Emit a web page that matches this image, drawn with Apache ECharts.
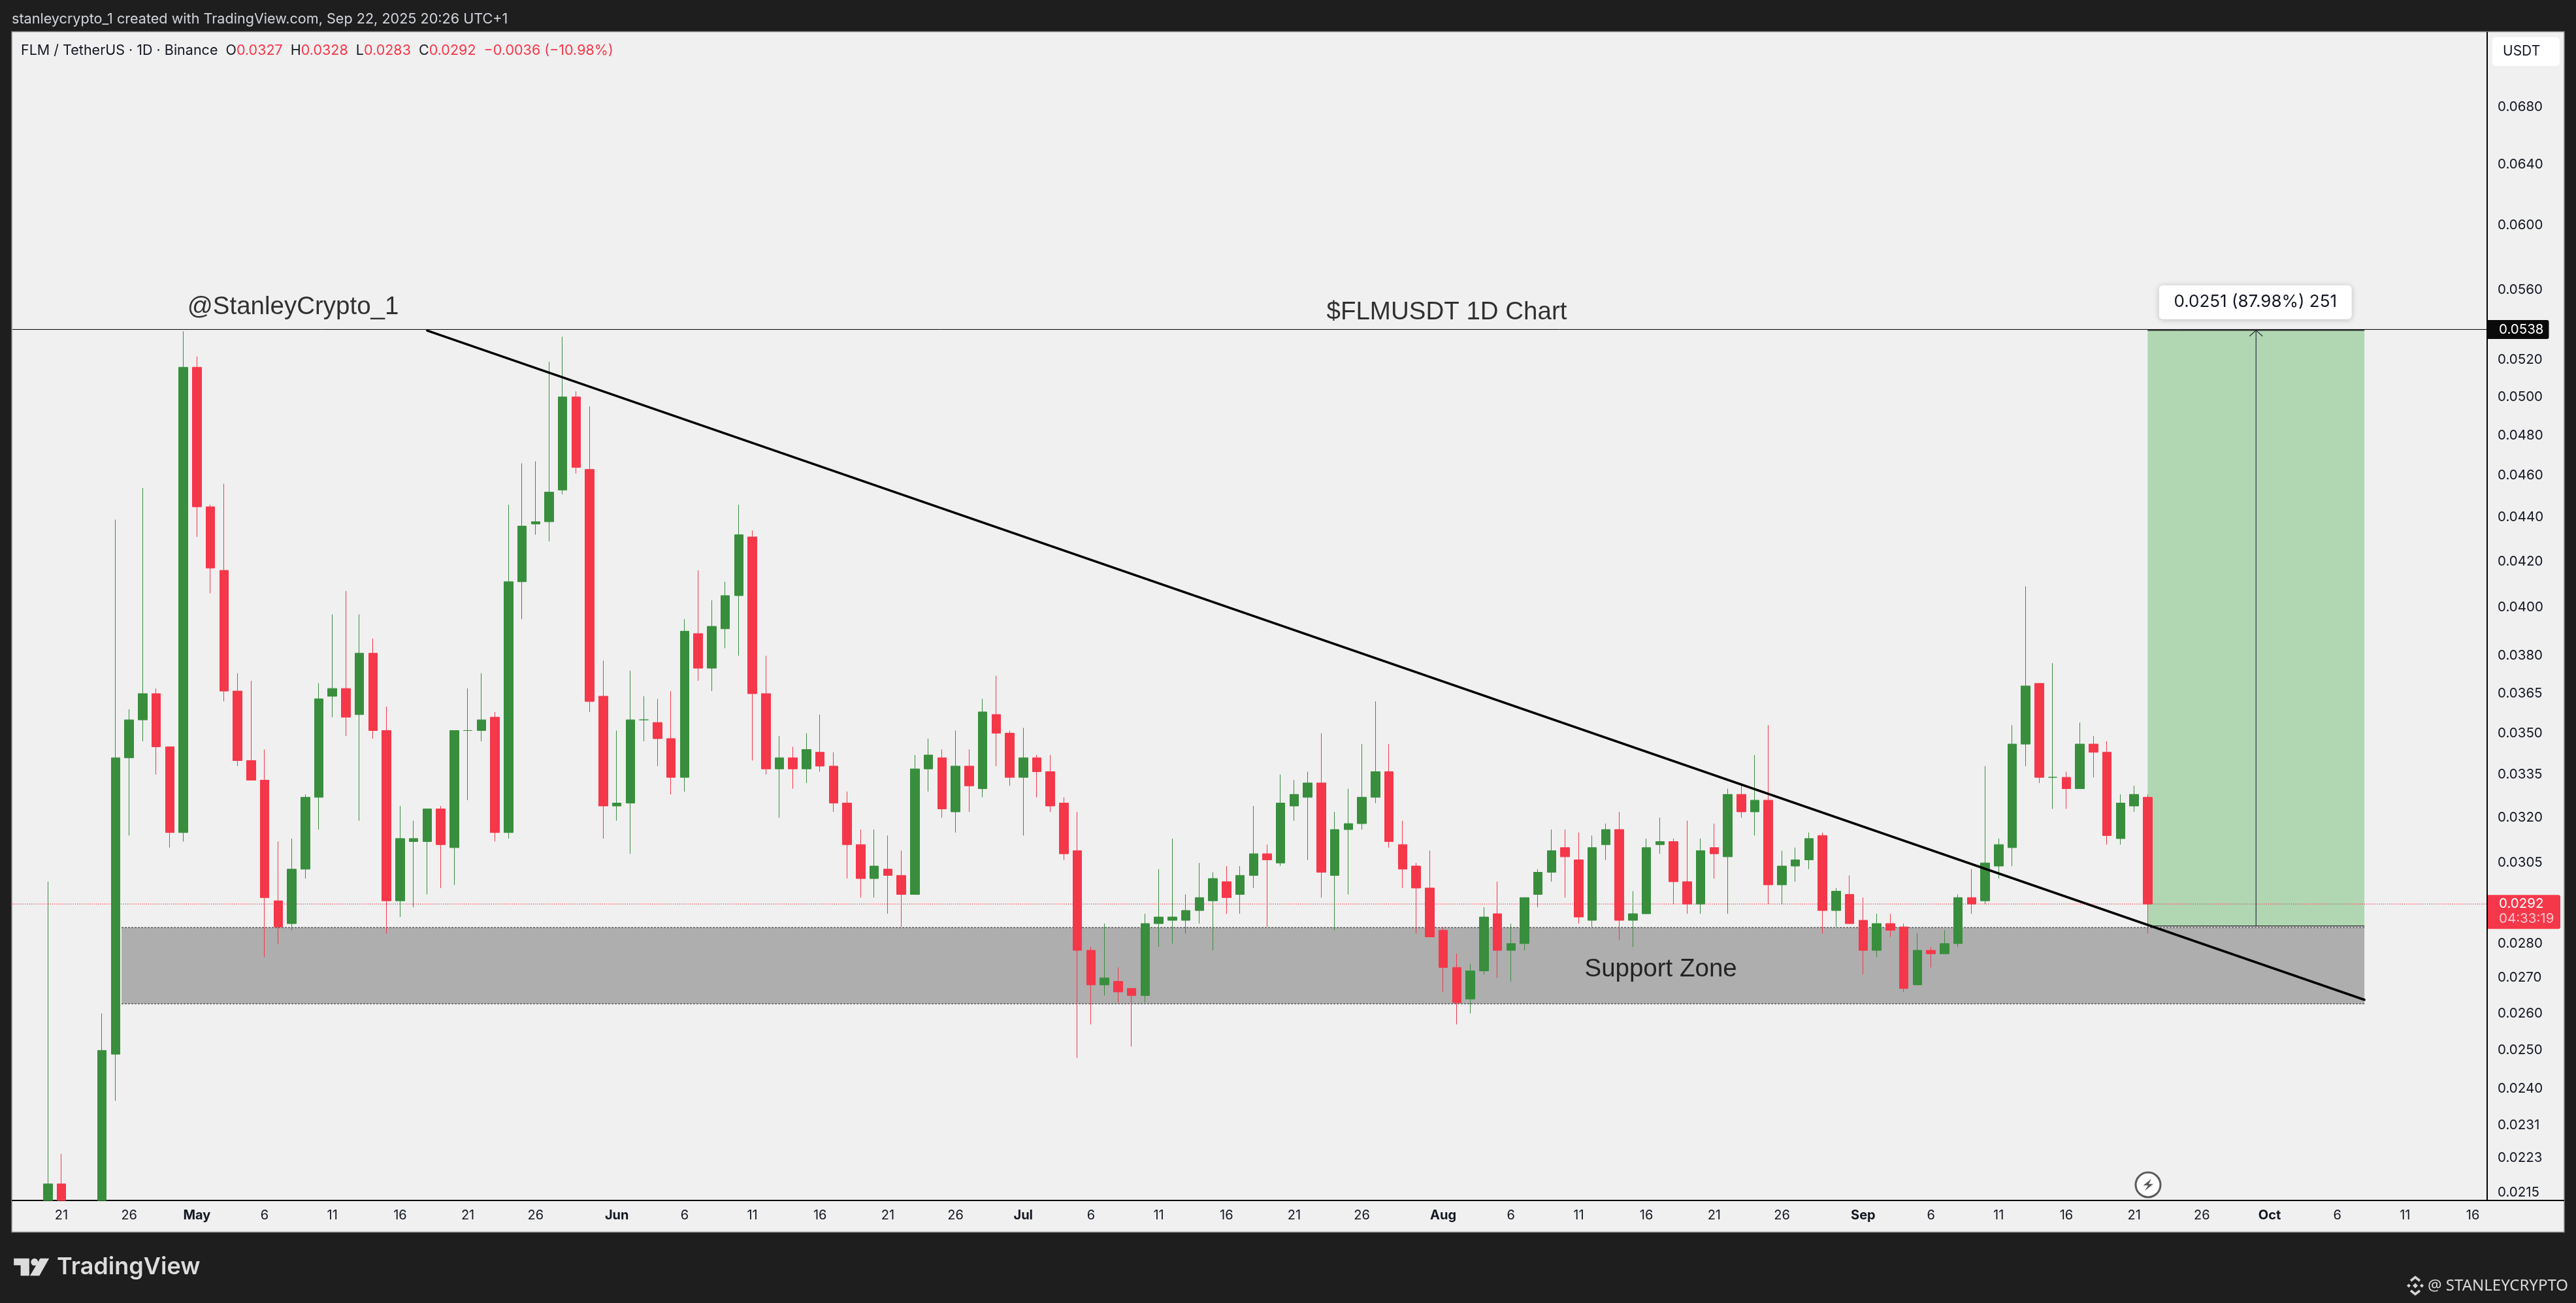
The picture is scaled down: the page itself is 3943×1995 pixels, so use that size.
<!DOCTYPE html>
<html>
<head>
<meta charset="utf-8">
<style>html,body{margin:0;padding:0;background:#1e1e1e}#c{width:3943px;height:1995px}</style>
<script src="https://cdn.jsdelivr.net/npm/echarts@6/dist/echarts.min.js"></script>
</head>
<body>
<div id="c"></div>
<script>
// Daily candles, first one is 20 Apr 2025; day index 0 is 21 Apr 2025.
// null: the candle lies below the visible price range; BELOW: that end of it is cut off by the axis floor.
const firstDayIndex = -1;
const BELOW = .021322;
const opens = [
 BELOW,.0217,null,null,BELOW,.0249,.0341,.0355,.0365,.0345,.0315,
 .0516,.0445,.0416,.0366,.0340,.0333,.0293,.0286,.0303,.0327,.0364,.0367,.0357,.0381,.0351,.0293,.0312,.0312,.0323,.0310,.0351,.0351,.0356,.0315,.0411,.0437,.0438,.0453,.0500,.0463,.0364,
 .0324,.0325,.0355,.0354,.0348,.0334,.0389,.0375,.0391,.0405,.0431,.0365,.0337,.0341,.0337,.0343,.0338,.0325,.0311,.0300,.0303,.0301,.0295,.0337,.0341,.0322,.0338,.0330,.0357,.0350,
 .0334,.0341,.0336,.0325,.0309,.0278,.0268,.0269,.0267,.0265,.0286,.0287,.0287,.0290,.0293,.0299,.0295,.0301,.0308,.0305,.0324,.0327,.0332,.0301,.0316,.0318,.0327,.0336,.0311,.0304,.0297,
 .0284,.0273,.0264,.0272,.0289,.0278,.0280,.0295,.0302,.0310,.0306,.0287,.0311,.0316,.0287,.0289,.0311,.0312,.0299,.0292,.0310,.0307,.0328,.0322,.0326,.0298,.0304,.0306,.0314,.0290,.0295,
 .0287,.0278,.0286,.0285,.0268,.0278,.0277,.0280,.0294,.0293,.0304,.0310,.0346,.0369,.0334,.0334,.0330,.0346,.0343,.0313,.0324,.0327];
const highs = [
 .0299,.0224,null,null,.0260,.0439,.0359,.0454,.0367,.0345,.0536,
 .0522,.0446,.0456,.0373,.0370,.0344,.0312,.0313,.0328,.0369,.0397,.0407,.0397,.0387,.0360,.0324,.0319,.0323,.0324,.0351,.0367,.0373,.0358,.0446,.0466,.0467,.0519,.0533,.0503,.0495,.0378,
 .0351,.0374,.0364,.0363,.0366,.0395,.0416,.0403,.0411,.0446,.0434,.0380,.0349,.0345,.0350,.0357,.0343,.0329,.0316,.0316,.0314,.0309,.0342,.0348,.0344,.0351,.0344,.0363,.0372,.0351,
 .0352,.0342,.0342,.0327,.0322,.0279,.0286,.0273,.0267,.0289,.0303,.0313,.0295,.0305,.0302,.0304,.0304,.0324,.0311,.0335,.0333,.0336,.0350,.0322,.0330,.0346,.0362,.0346,.0319,.0305,.0309,
 .0285,.0277,.0274,.0291,.0299,.0286,.0294,.0303,.0316,.0316,.0315,.0314,.0318,.0322,.0296,.0313,.0320,.0313,.0319,.0313,.0318,.0330,.0332,.0342,.0353,.0309,.0310,.0315,.0315,.0297,.0301,
 .0294,.0289,.0289,.0286,.0283,.0279,.0284,.0295,.0303,.0338,.0313,.0353,.0409,.0369,.0377,.0336,.0354,.0349,.0347,.0328,.0331,.0328];
const lows = [
 BELOW,BELOW,null,null,BELOW,.0237,.0314,.0347,.0335,.0310,.0312,
 .0431,.0406,.0362,.0338,.0333,.0276,.0280,.0284,.0300,.0316,.0356,.0349,.0319,.0348,.0283,.0288,.0291,.0295,.0297,.0298,.0326,.0347,.0312,.0313,.0395,.0432,.0429,.0451,.0461,.0358,.0313,
 .0319,.0308,.0347,.0338,.0328,.0329,.0370,.0366,.0383,.0380,.0340,.0335,.0320,.0330,.0332,.0336,.0322,.0300,.0294,.0294,.0289,.0285,.0295,.0329,.0320,.0315,.0322,.0327,.0338,.0331,
 .0314,.0327,.0322,.0306,.0248,.0257,.0265,.0263,.0251,.0263,.0279,.0280,.0283,.0286,.0278,.0289,.0289,.0297,.0285,.0304,.0319,.0306,.0294,.0284,.0295,.0316,.0325,.0310,.0297,.0283,.0282,
 .0266,.0257,.0260,.0271,.0270,.0269,.0278,.0291,.0299,.0294,.0286,.0285,.0306,.0281,.0279,.0289,.0308,.0292,.0289,.0289,.0300,.0289,.0320,.0314,.0292,.0292,.0299,.0303,.0283,.0285,.0286,
 .0271,.0276,.0282,.0266,.0268,.0273,.0277,.0279,.0289,.0292,.0300,.0304,.0338,.0332,.0323,.0323,.0330,.0334,.0311,.0311,.0322,.0283];
const closes = [
 .0217,BELOW,null,null,.0250,.0341,.0355,.0365,.0345,.0315,.0516,
 .0445,.0417,.0366,.0340,.0333,.0294,.0285,.0303,.0327,.0363,.0367,.0356,.0381,.0351,.0293,.0313,.0313,.0323,.0311,.0351,.0351,.0355,.0315,.0411,.0436,.0438,.0452,.0500,.0464,.0362,.0324,
 .0325,.0355,.0355,.0348,.0334,.0390,.0375,.0392,.0405,.0432,.0365,.0337,.0341,.0337,.0344,.0338,.0325,.0311,.0300,.0304,.0301,.0295,.0337,.0342,.0323,.0338,.0331,.0358,.0350,.0334,
 .0341,.0336,.0324,.0308,.0278,.0268,.0270,.0266,.0265,.0286,.0288,.0288,.0290,.0294,.0300,.0294,.0301,.0308,.0306,.0325,.0328,.0332,.0302,.0316,.0318,.0327,.0336,.0312,.0303,.0297,.0282,
 .0273,.0263,.0272,.0288,.0278,.0280,.0294,.0302,.0309,.0307,.0288,.0310,.0316,.0287,.0289,.0310,.0312,.0299,.0292,.0309,.0308,.0328,.0322,.0326,.0298,.0304,.0306,.0313,.0290,.0296,.0286,
 .0278,.0286,.0284,.0267,.0278,.0277,.0280,.0294,.0292,.0305,.0311,.0346,.0368,.0334,.0334,.0330,.0346,.0343,.0314,.0325,.0328,.0292];

// Axis ticks
const priceTicks = ['0.0680','0.0640','0.0600','0.0560','0.0520','0.0500','0.0480','0.0460','0.0440','0.0420','0.0400','0.0380','0.0365','0.0350','0.0335','0.0320','0.0305','0.0280','0.0270','0.0260','0.0250','0.0240','0.0231','0.0223','0.0215'];
const dayTickIndex = [0,5,10,15,20,25,30,35,41,46,51,56,61,66,71,76,81,86,91,96,102,107,112,117,122,127,133,138,143,148,153,158,163,168,173,178];
const dayTickLabel = ['21','26','May','6','11','16','21','26','Jun','6','11','16','21','26','Jul','6','11','16','21','26','Aug','6','11','16','21','26','Sep','6','11','16','21','26','Oct','6','11','16'];
const monthLabels = ['May','Jun','Jul','Aug','Sep','Oct'];

// Drawings (day index, price)
const supportZoneDays = [4.44,170];
const supportZonePrices = [.02627,.02848];
const targetZoneDays = [154,170];
const targetZonePrices = [.02853,.05366];
const targetArrowDay = 162;
const trendDays = [27,170];
const trendPrices = [.05365,.02638];
const levelPrice = .05371;
const levelLabel = '0.0538';
const lastPrice = .0292;
const lastLabel = '0.0292';
const countdownLabel = '04:33:19';
const noteTexts = ['@StanleyCrypto_1','$FLMUSDT 1D Chart','Support Zone'];
const noteDays = [17.1,102.26,118.06];
const notePrices = [.0550,.05468,.02724];
const measureText = '0.0251 (87.98%) 251';

const RED='#f5374a', GREEN='#388e3d', INK='#131722', FONT='Inter';
const xMin=-3.617, xMax=179.06, yMin=BELOW, yMax=.07361;

const candles = opens.map((o,i)=>[firstDayIndex+i,o,closes[i],lows[i],highs[i]]).filter(c=>c[1]!==null);
const chart = echarts.init(document.getElementById('c'),null,{renderer:'canvas'});

function rectSeries(days,prices,fill,stroke,dash,z){
  return {type:'custom',z,silent:true,clip:true,
    encode:{x:[0,1],y:[2,3]},
    data:[[days[0],days[1],prices[0],prices[1]]],
    renderItem(params,api){
      const a=api.coord([api.value(0),api.value(3)]), b=api.coord([api.value(1),api.value(2)]);
      return {type:'group',children:[
        {type:'rect',shape:{x:a[0],y:a[1],width:b[0]-a[0],height:b[1]-a[1]},style:{fill,stroke:null}},
        {type:'line',shape:{x1:a[0],y1:a[1],x2:b[0],y2:a[1]},style:{stroke,lineWidth:1.5,lineDash:dash}},
        {type:'line',shape:{x1:a[0],y1:b[1],x2:b[0],y2:b[1]},style:{stroke,lineWidth:1.5,lineDash:dash}}
      ]};
    }};
}

chart.setOption({
  animation:false,
  backgroundColor:'#1e1e1e',
  grid:{left:19,right:136,top:49.5,bottom:157,containLabel:false},
  xAxis:{type:'value',min:xMin,max:xMax,position:'bottom',scale:true,
    axisLine:{show:true,onZero:false,lineStyle:{color:'#000',width:2}},axisTick:{show:false},splitLine:{show:false},
    axisLabel:{customValues:dayTickIndex,margin:13,color:INK,fontFamily:FONT,fontSize:20,
      formatter:v=>{const s=dayTickLabel[dayTickIndex.indexOf(Math.round(v))];return monthLabels.includes(s)?'{b|'+s+'}':s;},
      rich:{b:{fontWeight:700,fontFamily:FONT,fontSize:20,color:INK}}}},
  yAxis:{type:'log',logBase:10,min:yMin,max:yMax,position:'right',
    axisLine:{show:true,onZero:false,lineStyle:{color:'#000',width:2}},axisTick:{show:false},splitLine:{show:false},minorTick:{show:false},minorSplitLine:{show:false},
    axisLabel:{customValues:priceTicks.map(Number),margin:16,color:INK,fontFamily:FONT,fontSize:20.5,align:'left',
      formatter:v=>Number(v).toFixed(4)}},
  series:[
    rectSeries(targetZoneDays,targetZonePrices,'#b1d7b2','#333',null,1),
    rectSeries(supportZoneDays,supportZonePrices,'#aeaeae','#555',[3,2],1),
    {type:'candlestick',z:3,clip:true,barWidth:14,data:candles,
      itemStyle:{color:GREEN,color0:RED,borderColor:GREEN,borderColor0:RED,borderColorDoji:GREEN,borderWidth:1}},
    {type:'line',z:2,silent:true,symbol:'none',data:[[xMin,levelPrice],[xMax,levelPrice]],lineStyle:{color:'#000',width:1}},
    {type:'line',z:2,silent:true,symbol:'none',data:[[xMin,lastPrice],[xMax,lastPrice]],lineStyle:{color:RED,width:1.2,type:[1.2,2]}},
    {type:'line',z:6,silent:true,symbol:'none',data:[[trendDays[0],trendPrices[0]],[trendDays[1],trendPrices[1]]],lineStyle:{color:'#000',width:3.5,cap:'round'}},
    {type:'custom',z:5,silent:true,encode:{x:0,y:[1,2]},
      data:[[targetArrowDay,targetZonePrices[0],targetZonePrices[1]]],
      renderItem(params,api){
        const a=api.coord([api.value(0),api.value(1)]), b=api.coord([api.value(0),api.value(2)]);
        const style={stroke:'#2a2e39',lineWidth:1.2,fill:null};
        return {type:'group',children:[
          {type:'line',shape:{x1:a[0],y1:a[1],x2:b[0],y2:b[1]},style},
          {type:'polyline',shape:{points:[[b[0]-10,b[1]+9],[b[0],b[1]],[b[0]+10,b[1]+9]]},style}
        ]};
      }},
    {type:'scatter',z:7,silent:true,symbolSize:1,itemStyle:{color:'transparent'},
      data:noteTexts.map((t,i)=>({value:[noteDays[i],notePrices[i]],name:t})),
      label:{show:true,position:'inside',formatter:p=>p.name,color:'#000',fontFamily:'Liberation Sans',fontSize:38.5}}
  ]
});

const px=(d,p)=>chart.convertToPixel({xAxisIndex:0,yAxisIndex:0},[d,p]);
const levelY=px(0,levelPrice)[1], lastY=px(0,lastPrice)[1];
const measureTopLeft=px(targetArrowDay,targetZonePrices[1]);
const txt=(x,y,text,font,fill,extra)=>Object.assign({type:'text',x,y,z:50,style:Object.assign({text,fill,font,textVerticalAlign:'middle'},extra||{})},{});
const tvFont=s=>s+'px Inter';
const bin=(cx,cy,r)=>({type:'polygon',z:50,shape:{points:[[cx,cy-r],[cx+r,cy],[cx,cy+r],[cx-r,cy]]},style:{fill:'#d6d6d6'}});
const legendFont='21.5px Inter';
chart.setOption({graphic:{elements:[
  {type:'rect',z:-10,shape:{x:18,y:48.5,width:3907,height:1838},style:{fill:'#f0f0f0',stroke:'#8a8a8a',lineWidth:1.5}},
  txt(18,29,'stanleycrypto_1 created with TradingView.com, Sep 22, 2025 20:26 UTC+1',tvFont(21.6),'#d1d4dc'),
  {type:'text',x:32,y:78,z:50,style:{font:legendFont,fill:INK,textVerticalAlign:'middle',
    text:'FLM / TetherUS · 1D · Binance  O{r|0.0327}  H{r|0.0328}  L{r|0.0283}  C{r|0.0292}  {r|−0.0036 (−10.98%)}',
    rich:{r:{fill:RED,font:legendFont}}}},
  {type:'line',z:4,shape:{x1:3807,y1:1838,x2:3925,y2:1838},style:{stroke:'#000',lineWidth:2}},
  {type:'rect',z:40,shape:{x:3815,y:57,width:103,height:44,r:5},style:{fill:'#fff'}},
  txt(3831,79,'USDT',tvFont(21),INK),
  {type:'rect',z:40,shape:{x:3807,y:levelY-14.5,width:94.5,height:29,r:[0,3,3,0]},style:{fill:'#0a0a0a'}},
  txt(3825,levelY,levelLabel,tvFont(20.5),'#fff'),
  {type:'rect',z:40,shape:{x:3808,y:lastY-14,width:111,height:52,r:[0,3,3,0]},style:{fill:RED}},
  txt(3825,lastY,lastLabel,tvFont(20.5),'#fff'),
  txt(3825,lastY+23,countdownLabel,tvFont(20.5),'#ffc4ca'),
  {type:'rect',z:40,shape:{x:measureTopLeft[0]-148.5,y:measureTopLeft[1]-69,width:295,height:52,r:6},style:{fill:'#fff',shadowBlur:8,shadowColor:'rgba(0,0,0,0.22)',shadowOffsetY:1}},
  {type:'text',x:measureTopLeft[0]-1,y:measureTopLeft[1]-43.5,z:50,style:{text:measureText,fill:INK,font:tvFont(26),textAlign:'center',textVerticalAlign:'middle'}},
  {type:'circle',z:40,shape:{cx:3288,cy:1814,r:19},style:{fill:'#fff',stroke:'#5a5a5a',lineWidth:3}},
  {type:'polygon',z:41,shape:{points:[[3293,1805],[3280.5,1815],[3288,1815],[3283,1823.3],[3296,1812.7],[3289,1812.7]]},style:{fill:'#5a5a5a'}},
  {type:'polygon',z:50,shape:{points:[[21.2,1926.7],[44.8,1926.7],[44.8,1953.3],[31.6,1953.3],[31.6,1937.3],[21.2,1937.3]]},style:{fill:'#dcdcdc'}},
  {type:'circle',z:50,shape:{cx:52.8,cy:1932.3,r:5.5},style:{fill:'#dcdcdc'}},
  {type:'polygon',z:50,shape:{points:[[61.4,1926.7],[75.2,1926.7],[60.3,1953.3],[45.9,1953.3]]},style:{fill:'#dcdcdc'}},
  txt(87,1940,'TradingView','600 36px Inter','#dcdcdc'),
  bin(3697,1968.5,4),bin(3687,1968.5,3),bin(3707,1968.5,3),
  {type:'polyline',z:50,shape:{points:[[3690,1961],[3697,1955.5],[3704,1961]]},style:{stroke:'#d6d6d6',lineWidth:3.5,fill:null}},
  {type:'polyline',z:50,shape:{points:[[3690,1976],[3697,1981.5],[3704,1976]]},style:{stroke:'#d6d6d6',lineWidth:3.5,fill:null}},
  txt(3716,1969,'@ STANLEYCRYPTO','24px "Noto Sans"','#d9d9d9')
]}});
</script>
</body>
</html>
